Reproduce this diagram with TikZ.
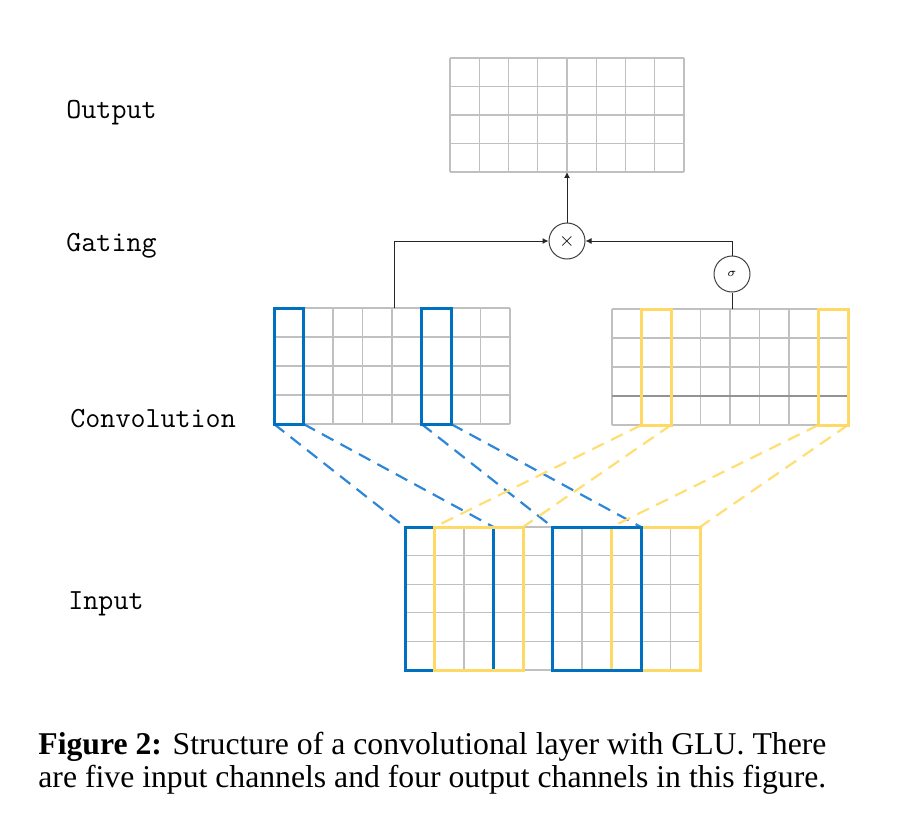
\documentclass[tikz,border=0pt]{standalone}
\usepackage{fontspec}
\setmainfont{Liberation Serif}
\usetikzlibrary{arrows.meta}
\definecolor{boxblue}{RGB}{0,112,192}
\definecolor{boxyellow}{RGB}{255,217,102}
\definecolor{dashblue}{RGB}{46,134,214}
\definecolor{dashyellow}{RGB}{255,222,115}
\definecolor{gridgray}{RGB}{192,192,192}
\newcommand\mygrid[6]{%
  \foreach \i in {0,...,#3} \draw[gridline] ({#1+\i*#5},#2) -- ({#1+\i*#5},{#2+#4*#6});
  \foreach \j in {0,...,#4} \draw[gridline] (#1,{#2+\j*#6}) -- ({#1+#3*#5},{#2+\j*#6});
}
\tikzset{
  gridline/.style={draw=gridgray, line width=0.6pt},
  bluebox/.style={draw=boxblue, line width=1.5pt, line join=miter},
  yellowbox/.style={draw=boxyellow, line width=1.5pt, line join=miter},
  bluedash/.style={draw=dashblue, line width=1.1pt, dash pattern=on 6.5pt off 4pt},
  yellowdash/.style={draw=dashyellow, line width=1.1pt, dash pattern=on 6.5pt off 4pt},
  conn/.style={draw=black!85, line width=0.5pt},
  connarrow/.style={conn, -{Latex[length=3pt,width=3pt]}},
  opcircle/.style={circle, draw=black!75, line width=0.5pt, minimum size=18pt, inner sep=0pt},
  lab/.style={anchor=base west, inner sep=0pt, font=\ttfamily\fontsize{14.6}{17}\selectfont},
  captext/.style={anchor=base west, inner sep=0pt, font=\fontsize{15.85}{19}\selectfont},
}
\begin{document}
\begin{tikzpicture}[x={(0.5pt,0)}, y={(0,-0.5pt)}]
\useasboundingbox (0,0) rectangle (898,834);

% grids
\mygrid{450}{58}{8}{4}{29.25}{28.5}
\mygrid{274}{308}{8}{4}{29.5}{29}
\mygrid{612}{309}{8}{4}{29.5}{29}
\draw[draw=gray!85, line width=0.8pt] (612,396) -- (848,396);
\mygrid{405}{527}{10}{5}{29.5}{28.6}

% named corners
\coordinate (outB) at (567,172);
\coordinate (convLtop) at (394,308);
\coordinate (convRtop) at (732,309);

\coordinate (lb1bl) at (274,424);   \coordinate (lb1br) at (303.5,424);
\coordinate (lb2bl) at (421.5,424); \coordinate (lb2br) at (451,424);
\coordinate (ry1bl) at (641.5,425); \coordinate (ry1br) at (671,425);
\coordinate (ry2bl) at (818.5,425); \coordinate (ry2br) at (848,425);
\coordinate (ib1tl) at (405,527);   \coordinate (ib1tr) at (493.5,527);
\coordinate (iy1tl) at (434.5,527); \coordinate (iy1tr) at (523,527);
\coordinate (ib2tl) at (552.5,527); \coordinate (ib2tr) at (641,527);
\coordinate (iy2tl) at (611.5,527); \coordinate (iy2tr) at (700,527);

% dashed connections
\draw[bluedash] (lb1bl) -- (ib1tl);
\draw[bluedash] (lb1br) -- (ib1tr);
\draw[bluedash] (lb2bl) -- (ib2tl);
\draw[bluedash] (lb2br) -- (ib2tr);
\draw[yellowdash] (ry1bl) -- (iy1tl);
\draw[yellowdash] (ry1br) -- (iy1tr);
\draw[yellowdash] (ry2bl) -- (iy2tl);
\draw[yellowdash] (ry2br) -- (iy2tr);

% highlighted boxes
\draw[bluebox] (274,308) rectangle (lb1br);
\draw[bluebox] (421.5,308) rectangle (lb2br);
\draw[yellowbox] (641.5,309) rectangle (ry1br);
\draw[yellowbox] (818.5,309) rectangle (ry2br);
\draw[bluebox] (ib1tl) rectangle (493.5,670);
\draw[yellowbox] (iy1tl) rectangle (523,670);
\draw[yellowbox] (iy2tl) rectangle (700,670);
\draw[bluebox] (ib2tl) rectangle (641,670);

% gating
\node[opcircle] (mul) at (567,241) {\fontsize{10}{10}\selectfont$\times$};
\node[opcircle] (sig) at (732,274) {\fontsize{6}{6}\selectfont$\sigma$};
\draw[connarrow] (convLtop) |- (mul.west);
\draw[connarrow] (sig.north) |- (mul.east);
\draw[conn] (convRtop) -- (sig.south);
\draw[connarrow] (mul.north) -- (outB);

% labels
\node[lab] (lOut) at (66,119) {Output};
\node[lab] (lGat) at (66,251) {Gating};
\node[lab] (lConv) at (70,427) {Convolution};
\node[lab] (lIn) at (68,609) {Input};

% caption
\node[captext] (cap1) at (38,754) {\makebox[394pt][s]{\textbf{Figure 2:} Structure of a convolutional layer with GLU. There}};
\node[captext] (cap2) at (38,787) {are five input channels and four output channels in this figure.};
\end{tikzpicture}
\end{document}
